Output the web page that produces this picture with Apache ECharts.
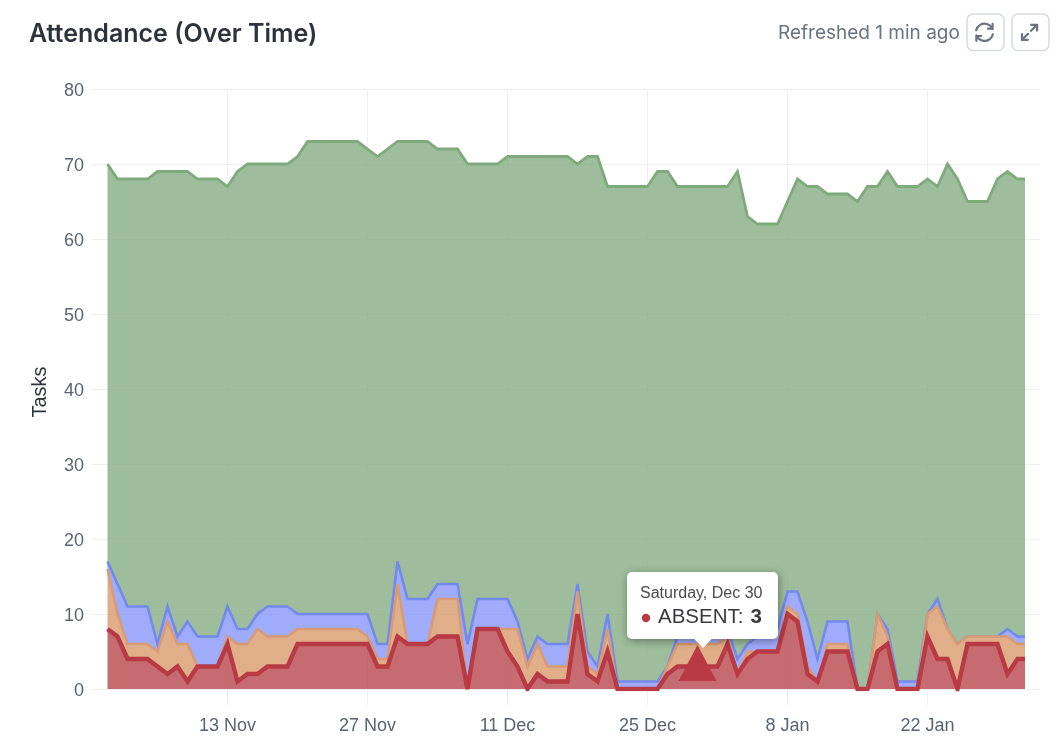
<!DOCTYPE html>
<html>
<head>
<meta charset="utf-8">
<title>Attendance (Over Time)</title>
<style>
  html, body { margin: 0; padding: 0; background: #fff; }
  #chart { width: 1063px; height: 752px; }
</style>
<script src="https://cdn.jsdelivr.net/npm/echarts@6/dist/echarts.min.js"></script>
</head>
<body>
<div id="chart"></div>
<script>
// Daily attendance counts, one entry per day from 1 Nov 2023.
const absent = [8,7,4,4,4,3,2,3,1,3, 3,3,6,1,2,2,3,3,3,6, 6,6,6,6,6,6,6,3,3,7,
  6,6,6,7,7,7,0,8,8,8, 5,3,0,2,1,1,1,10,2,1, 5,0,0,0,0,0,2,3,3,3,
  3,3,6,2,4,5,5,5,10,9, 2,1,5,5,5,0,0,5,6,0, 0,0,7,4,4,0,6,6,6,6, 2,4,4];
const late = [8,3,2,2,2,2,7,3,5,0, 0,0,1,5,4,6,4,4,4,2, 2,2,2,2,2,2,1,1,1,7,
  0,0,0,5,5,5,0,0,0,0, 3,5,3,4,2,2,2,3,1,1, 3,0,0,0,0,0,1,3,3,3,
  3,3,1,0,1,0,0,0,1,1, 1,0,1,1,1,0,0,5,1,0, 0,0,3,7,4,6,1,1,1,1, 5,2,2];
const excused = [1,4,5,5,5,1,2,1,3,4, 4,4,4,2,2,2,4,4,4,2, 2,2,2,2,2,2,3,2,2,3,
  6,6,6,2,2,2,6,4,4,4, 4,1,1,1,3,3,3,1,2,1, 2,1,1,1,1,1,0,1,1,1,
  1,1,1,2,1,2,2,3,2,3, 6,3,3,3,3,0,0,0,1,1, 1,1,0,1,0,0,0,0,0,0, 1,1,1];
const present = [53,54,57,57,57,63,58,62,60,61, 61,61,56,61,62,60,59,59,59,61, 63,63,63,63,63,63,62,65,66,56,
  61,61,61,58,58,58,64,58,58,58, 59,62,67,64,65,65,65,56,66,68, 57,66,66,66,66,68,66,60,60,60,
  60,60,59,65,57,55,55,54,52,55, 58,63,57,57,57,65,67,57,61,66, 66,66,58,55,62,62,58,58,58,61, 61,61,61];

const tickLabels = ['13 Nov', '27 Nov', '11 Dec', '25 Dec', '8 Jan', '22 Jan'];
const tickDates = [
  Date.UTC(2023, 10, 13), Date.UTC(2023, 10, 27), Date.UTC(2023, 11, 11),
  Date.UTC(2023, 11, 25), Date.UTC(2024, 0, 8), Date.UTC(2024, 0, 22)
];
const yTicks = { min: 0, max: 80, step: 10 };
const hovered = { date: Date.UTC(2023, 11, 30), value: 3, heading: 'Saturday, Dec 30', name: 'ABSENT' };

const DAY = 86400000;
const firstDay = Date.UTC(2023, 10, 1);
// The last bucket is the current, still open day.
const lastStamp = Date.UTC(2024, 0, 31, 18);
const stamps = absent.map((_, i) => i === absent.length - 1 ? lastStamp : firstDay + i * DAY);
const pairs = values => values.map((v, i) => [stamps[i], v]);
const xMin = firstDay - 1.55 * DAY;
const xMax = firstDay + 93.25 * DAY;

const sansUI = 'Inter, "Noto Sans", sans-serif';
const sansChart = '"Liberation Sans", Arial, sans-serif';
const gridLine = '#eeeff1';
const axisText = '#5b6472';

function area(name, values, line, fill, width, z) {
  return {
    name, type: 'line', stack: 'attendance', data: pairs(values), z,
    xAxisIndex: 0,
    symbol: 'none', showSymbol: false, silent: true,
    lineStyle: { color: line, width, join: 'miter', miterLimit: 4 },
    itemStyle: { color: line },
    areaStyle: { color: fill, opacity: 1 }
  };
}

const chart = echarts.init(document.getElementById('chart'), null, { renderer: 'canvas' });
chart.setOption({
  animation: false,
  backgroundColor: '#fff',
  grid: { left: 92, right: 23, top: 89, bottom: 63 },
  xAxis: [
    // Date scale that carries the stacked series.
    {
      type: 'time', min: xMin, max: xMax, position: 'bottom',
      axisLine: { show: false }, axisTick: { show: false },
      axisLabel: { show: false }, splitLine: { show: false }
    },
    // Same range, drawing the fortnightly ticks, labels and gridlines.
    {
      type: 'value', min: xMin, max: xMax, position: 'bottom',
      axisLine: { show: false },
      axisTick: { show: true, length: 16, customValues: tickDates, lineStyle: { color: gridLine, width: 1 } },
      splitLine: { show: true, lineStyle: { color: gridLine, width: 1 } },
      axisLabel: {
        customValues: tickDates,
        margin: 28,
        fontFamily: sansChart, fontSize: 18, color: axisText,
        formatter: v => tickLabels[tickDates.indexOf(v)] || ''
      }
    }
  ],
  yAxis: {
    type: 'value',
    min: yTicks.min, max: yTicks.max, interval: yTicks.step,
    name: 'Tasks', nameLocation: 'middle', nameGap: 42,
    nameTextStyle: { fontFamily: sansChart, fontSize: 20, color: '#2f333b', padding: [0, 6, 0, 0] },
    axisLine: { show: false },
    axisTick: { show: false },
    splitLine: { show: true, lineStyle: { color: gridLine, width: 1 } },
    axisLabel: {
      margin: 8,
      formatter: '{a|{value}}',
      rich: { a: { fontFamily: sansChart, fontSize: 18, color: axisText, padding: [4, 0, 0, 0] } }
    }
  },
  series: [
    area('ABSENT', absent, '#b83a44', 'rgba(184,71,76,0.8)', 4.4, 6),
    area('LATE', late, '#d89b74', 'rgba(216,154,106,0.8)', 2.6, 5),
    area('EXCUSED', excused, '#7389ec', 'rgba(135,150,250,0.8)', 2.6, 4),
    area('PRESENT', present, '#7fab7c', 'rgba(134,172,131,0.8)', 2.8, 3),
    {
      name: 'hover', type: 'scatter', z: 7, silent: true, xAxisIndex: 0,
      data: [[hovered.date, hovered.value]],
      symbol: 'triangle', symbolSize: [38, 36], symbolOffset: [0, -3.5],
      itemStyle: { color: '#b83a44', opacity: 1 }
    }
  ],
  tooltip: { show: false },
  legend: { show: false }
});

// Callout anchored on the hovered day through the axis scales.
const [hx, hy] = chart.convertToPixel({ xAxisIndex: 0, yAxisIndex: 0 }, [hovered.date, hovered.value]);
const boxL = hx - 70.5, boxT = hy - 94.5, boxW = 151, boxH = 67;
const icon = '#6b7280';
const stroke = (w = 2) => ({ stroke: icon, lineWidth: w, fill: null, lineCap: 'round', lineJoin: 'round' });
const btn = x => ({ type: 'rect', shape: { x, y: 14, width: 37, height: 36.5, r: 6 },
  style: { fill: '#fff', stroke: '#d8dbe2', lineWidth: 1.6 } });
const seg = (points, w) => ({ type: 'polyline', shape: { points }, style: stroke(w) });
const arc = (startAngle, endAngle) => ({ type: 'arc', shape: { cx: 984.5, cy: 32.3, r: 8.6, startAngle, endAngle, clockwise: true }, style: stroke(2.2) });

chart.setOption({
  graphic: { elements: [
    { type: 'text', left: 29, top: 22, style: { text: 'Attendance (Over Time)', font: '600 25px ' + sansUI, fill: '#2e323b' } },
    { type: 'text', left: 778, top: 24, style: { text: 'Refreshed 1 min ago', font: '400 19px ' + sansUI, fill: '#6b7280' } },
    btn(967), btn(1012),
    arc(Math.PI * 1.08, Math.PI * 1.88), arc(Math.PI * 0.08, Math.PI * 0.88),
    seg([[992.6, 23.8], [992.6, 28.6], [987.8, 28.6]], 2.2),
    seg([[976.4, 40.8], [976.4, 36], [981.2, 36]], 2.2),
    seg([[1022, 39.8], [1028, 33.8]], 2.2), seg([[1031, 30.8], [1037, 24.8]], 2.2),
    seg([[1031.2, 24.8], [1037, 24.8], [1037, 30.6]], 2.2),
    seg([[1022, 34], [1022, 39.8], [1027.8, 39.8]], 2.2),
    { type: 'rect', z: 100, silent: true, shape: { x: boxL, y: boxT, width: boxW, height: boxH, r: 5 },
      style: { fill: '#fff', shadowBlur: 9, shadowColor: 'rgba(0,0,0,0.38)', shadowOffsetX: 1, shadowOffsetY: 2 } },
    { type: 'polygon', z: 101, silent: true, shape: { points: [[hx - 4, boxT + boxH - 1], [hx + 15, boxT + boxH - 1], [hx + 5.5, boxT + boxH + 9]] },
      style: { fill: '#fff' } },
    { type: 'text', z: 102, silent: true, x: boxL + 13, y: boxT + 14, style: { text: hovered.heading, font: '16px ' + sansChart, fill: '#4b4b4f' } },
    { type: 'circle', z: 102, silent: true, shape: { cx: boxL + 19, cy: boxT + 46, r: 4.2 }, style: { fill: '#b83a44' } },
    { type: 'text', z: 102, silent: true, x: boxL + 31, y: boxT + 35, style: {
        text: '{n|' + hovered.name + ':}{v|' + hovered.value + '}',
        rich: {
          n: { font: '20.5px ' + sansChart, fill: '#3a3a3e', padding: [0, 7, 0, 0] },
          v: { font: 'bold 20.5px ' + sansChart, fill: '#3a3a3e' }
        }
    } }
  ] }
});
</script>
</body>
</html>
